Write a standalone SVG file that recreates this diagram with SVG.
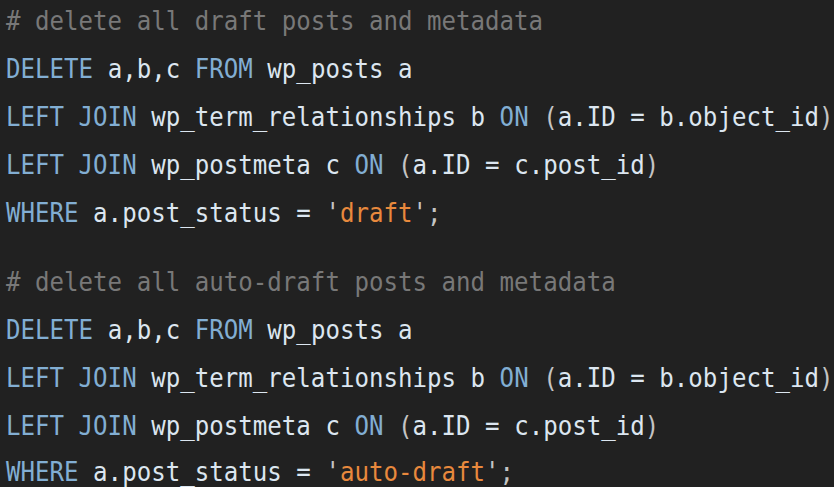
<svg xmlns="http://www.w3.org/2000/svg" width="834" height="487" viewBox="0 0 834 487">
<style>
text{font-family:"DejaVu Sans Mono","Liberation Mono",monospace;font-size:24px;white-space:pre;fill:#dce6f0}
.c{fill:#787878}
.k{fill:#82aed3}
.s{fill:#e8893d}
.p{fill:#c4c4c4}
</style>
<rect width="834" height="487" fill="#212121"/>
<g id="code">
<g transform="translate(6,30) scale(1.005,1.13)"><text class="c"># delete all draft posts and metadata</text></g>
<g transform="translate(6,78) scale(1.005,1.13)"><text><tspan class="k">DELETE</tspan> a,b,c <tspan class="k">FROM</tspan> wp_posts a</text></g>
<g transform="translate(6,126) scale(1.005,1.13)"><text><tspan class="k">LEFT JOIN</tspan> wp_term_relationships b <tspan class="k">ON</tspan> <tspan class="p">(</tspan>a.ID = b.object_id<tspan class="p">)</tspan></text></g>
<g transform="translate(6,174) scale(1.005,1.13)"><text><tspan class="k">LEFT JOIN</tspan> wp_postmeta c <tspan class="k">ON</tspan> <tspan class="p">(</tspan>a.ID = c.post_id<tspan class="p">)</tspan></text></g>
<g transform="translate(6,222) scale(1.005,1.13)"><text><tspan class="k">WHERE</tspan> a.post_status = <tspan class="p">'</tspan><tspan class="s">draft</tspan><tspan class="p">';</tspan></text></g>
<g transform="translate(6,291) scale(1.005,1.13)"><text class="c"># delete all auto-draft posts and metadata</text></g>
<g transform="translate(6,339) scale(1.005,1.13)"><text><tspan class="k">DELETE</tspan> a,b,c <tspan class="k">FROM</tspan> wp_posts a</text></g>
<g transform="translate(6,387) scale(1.005,1.13)"><text><tspan class="k">LEFT JOIN</tspan> wp_term_relationships b <tspan class="k">ON</tspan> <tspan class="p">(</tspan>a.ID = b.object_id<tspan class="p">)</tspan></text></g>
<g transform="translate(6,435) scale(1.005,1.13)"><text><tspan class="k">LEFT JOIN</tspan> wp_postmeta c <tspan class="k">ON</tspan> <tspan class="p">(</tspan>a.ID = c.post_id<tspan class="p">)</tspan></text></g>
<g transform="translate(6,481) scale(1.005,1.13)"><text><tspan class="k">WHERE</tspan> a.post_status = <tspan class="p">'</tspan><tspan class="s">auto-draft</tspan><tspan class="p">';</tspan></text></g>
</g>
</svg>
